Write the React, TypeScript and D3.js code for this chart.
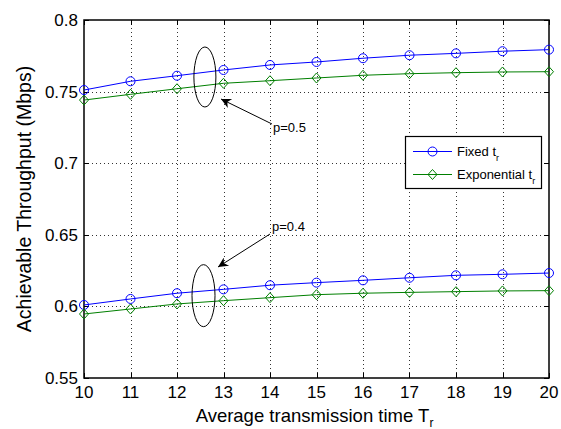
import React, { useEffect, useRef } from 'react';
import * as d3 from 'd3';

const transTime = [10, 11, 12, 13, 14, 15, 16, 17, 18, 19, 20];
const fixedP05 = [0.7511, 0.7572, 0.7611, 0.7651, 0.7686, 0.7707, 0.7733, 0.7754, 0.7767, 0.7782, 0.7793];
const expoP05 = [0.7441, 0.7481, 0.752, 0.7558, 0.7576, 0.7595, 0.7614, 0.7625, 0.7632, 0.7637, 0.7639];
const fixedP04 = [0.601, 0.6052, 0.6092, 0.6119, 0.6148, 0.6166, 0.6182, 0.62, 0.6217, 0.6224, 0.6233];
const expoP04 = [0.5947, 0.5982, 0.6017, 0.604, 0.6061, 0.6082, 0.6092, 0.6098, 0.6103, 0.6108, 0.611];
const yTicks = [0.55, 0.6, 0.65, 0.7, 0.75, 0.8];
const xTicks = [10, 11, 12, 13, 14, 15, 16, 17, 18, 19, 20];

const W = 561;
const H = 429;
const margin = { left: 84, right: 12, top: 20, bottom: 51 };
const FONT = 'Liberation Sans, Arial, Helvetica, sans-serif';

const App = () => {
  const svgRef = useRef<SVGSVGElement>(null);

  useEffect(() => {
    const svg = d3.select(svgRef.current);
    svg.selectAll('*').remove();

    const x = d3.scaleLinear().domain([10, 20]).range([margin.left, W - margin.right]);
    const y = d3.scaleLinear().domain([0.55, 0.8]).range([H - margin.bottom, margin.top]);
    const [x0, x1] = x.range();
    const [y0, y1] = y.range();

    svg.append('rect').attr('width', W).attr('height', H).attr('fill', '#fff');

    // grid
    const grid = svg.append('g').attr('stroke', '#333').attr('stroke-width', 1).attr('stroke-dasharray', '1,3');
    xTicks.slice(1, -1).forEach(t => {
      grid.append('line').attr('x1', Math.round(x(t)) + 0.5).attr('x2', Math.round(x(t)) + 0.5).attr('y1', y1).attr('y2', y0);
    });
    yTicks.slice(1, -1).forEach(t => {
      grid.append('line').attr('y1', Math.round(y(t)) + 0.5).attr('y2', Math.round(y(t)) + 0.5).attr('x1', x0).attr('x2', x1);
    });

    // ticks (inward, all sides)
    const tk = svg.append('g').attr('stroke', '#000').attr('stroke-width', 1);
    xTicks.forEach(t => {
      const px = Math.round(x(t)) + 0.5;
      tk.append('line').attr('x1', px).attr('x2', px).attr('y1', y0).attr('y2', y0 - 5);
      tk.append('line').attr('x1', px).attr('x2', px).attr('y1', y1).attr('y2', y1 + 5);
    });
    yTicks.forEach(t => {
      const py = Math.round(y(t)) + 0.5;
      tk.append('line').attr('y1', py).attr('y2', py).attr('x1', x0).attr('x2', x0 + 5);
      tk.append('line').attr('y1', py).attr('y2', py).attr('x1', x1).attr('x2', x1 - 5);
    });

    svg.append('rect')
      .attr('x', x0).attr('y', y1).attr('width', x1 - x0).attr('height', y0 - y1)
      .attr('fill', 'none').attr('stroke', '#000').attr('stroke-width', 1.5);

    // tick labels
    svg.append('g').selectAll('text').data(xTicks).enter().append('text')
      .attr('x', d => x(d)).attr('y', y0 + 20)
      .attr('text-anchor', 'middle').attr('font-family', FONT).attr('font-size', 17)
      .text(d => d);
    svg.append('g').selectAll('text').data(yTicks).enter().append('text')
      .attr('x', x0 - 6).attr('y', d => y(d) + 6)
      .attr('text-anchor', 'end').attr('font-family', FONT).attr('font-size', 17)
      .text(d => d3.format('')(d));

    // axis titles
    const xl = svg.append('text').attr('x', (x0 + x1) / 2 - 2).attr('y', 422)
      .attr('text-anchor', 'middle').attr('font-family', FONT).attr('font-size', 18.5);
    xl.append('tspan').text('Average transmission time T');
    xl.append('tspan').attr('font-size', 12).attr('dy', 5).text('r');

    svg.append('text')
      .attr('transform', `translate(31,${(y0 + y1) / 2}) rotate(-90)`)
      .attr('text-anchor', 'middle').attr('font-family', FONT).attr('font-size', 19.5)
      .text('Achievable Throughput (Mbps)');

    const line = d3.line<number>().x((_, i) => x(transTime[i])).y(d => y(d));
    const diamond = (cx: number, cy: number) => `M${cx},${cy - 5}L${cx + 4.5},${cy}L${cx},${cy + 5}L${cx - 4.5},${cy}Z`;

    const drawSeries = (vals: number[], color: string, marker: 'o' | 'd') => {
      svg.append('path').attr('d', line(vals)).attr('fill', 'none').attr('stroke', color).attr('stroke-width', 1);
      vals.forEach((v, i) => {
        if (marker === 'o') {
          svg.append('circle').attr('cx', x(transTime[i])).attr('cy', y(v)).attr('r', 4.5)
            .attr('fill', 'none').attr('stroke', color).attr('stroke-width', 1);
        } else {
          svg.append('path').attr('d', diamond(x(transTime[i]), y(v)))
            .attr('fill', 'none').attr('stroke', color).attr('stroke-width', 1);
        }
      });
    };
    drawSeries(fixedP05, '#0000ff', 'o');
    drawSeries(expoP05, '#007f00', 'd');
    drawSeries(fixedP04, '#0000ff', 'o');
    drawSeries(expoP04, '#007f00', 'd');

    // annotations
    svg.append('defs').append('marker')
      .attr('id', 'arrowhead').attr('viewBox', '0 0 10 10').attr('refX', 10).attr('refY', 5)
      .attr('markerWidth', 14).attr('markerHeight', 10).attr('markerUnits', 'userSpaceOnUse').attr('orient', 'auto')
      .append('path').attr('d', 'M0,0L10,5L0,10L3,5Z').attr('fill', '#000');

    svg.append('ellipse').attr('cx', x(12.6)).attr('cy', y(0.7602)).attr('rx', 11).attr('ry', 30)
      .attr('fill', 'none').attr('stroke', '#000').attr('stroke-width', 1);
    svg.append('ellipse').attr('cx', x(12.57)).attr('cy', y(0.6075)).attr('rx', 11.5).attr('ry', 31)
      .attr('fill', 'none').attr('stroke', '#000').attr('stroke-width', 1);

    svg.append('line').attr('x1', 272).attr('y1', 124).attr('x2', 221).attr('y2', 99)
      .attr('stroke', '#000').attr('marker-end', 'url(#arrowhead)');
    svg.append('line').attr('x1', 270).attr('y1', 234).attr('x2', 218).attr('y2', 267)
      .attr('stroke', '#000').attr('marker-end', 'url(#arrowhead)');

    svg.append('text').attr('x', 273).attr('y', 132).attr('font-family', FONT).attr('font-size', 13).text('p=0.5');
    svg.append('text').attr('x', 272).attr('y', 231).attr('font-family', FONT).attr('font-size', 13).text('p=0.4');

    // legend
    const lg = svg.append('g');
    lg.append('rect').attr('x', 405.5).attr('y', 136.5).attr('width', 136).attr('height', 52)
      .attr('fill', '#fff').attr('stroke', '#000').attr('stroke-width', 1.2);
    const items = [
      { label: 'Fixed t', color: '#0000ff', marker: 'o' as const, ly: 151.5 },
      { label: 'Exponential t', color: '#007f00', marker: 'd' as const, ly: 174.5 },
    ];
    items.forEach(it => {
      lg.append('line').attr('x1', 413).attr('x2', 452).attr('y1', it.ly).attr('y2', it.ly)
        .attr('stroke', it.color).attr('stroke-width', 1);
      if (it.marker === 'o') {
        lg.append('circle').attr('cx', 432.5).attr('cy', it.ly).attr('r', 4.5)
          .attr('fill', 'none').attr('stroke', it.color);
      } else {
        lg.append('path').attr('d', diamond(432.5, it.ly)).attr('fill', 'none').attr('stroke', it.color);
      }
      const t = lg.append('text').attr('x', 457).attr('y', it.ly + 4)
        .attr('font-family', FONT).attr('font-size', 13);
      t.append('tspan').text(it.label);
      t.append('tspan').attr('font-size', 9).attr('dy', 5).text('r');
    });
  }, []);

  return (
    <div style={{ position: 'absolute', left: 0, top: 0 }}>
      <svg ref={svgRef} width={W} height={H} style={{ display: 'block' }}></svg>
    </div>
  );
};

export default App;
